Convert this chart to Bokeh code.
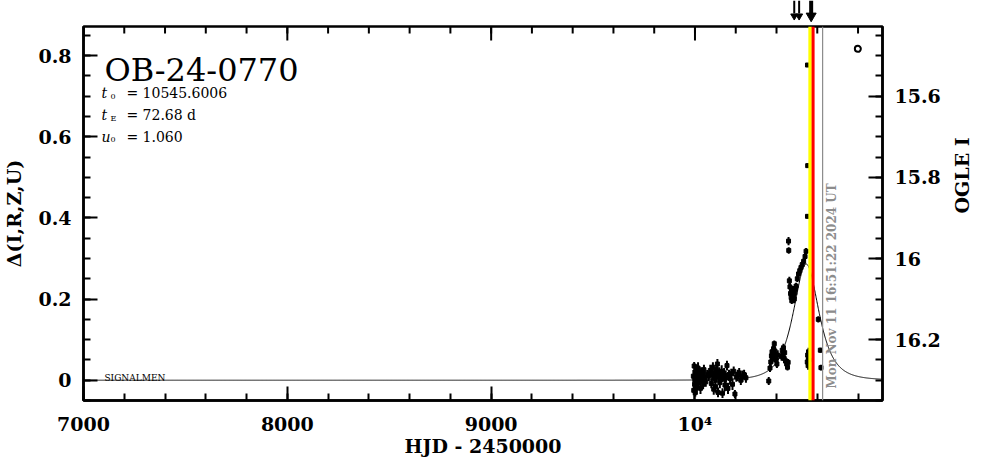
import numpy as np
from bokeh.plotting import figure
from bokeh.layouts import column
from bokeh.models import Range1d, LinearAxis, FixedTicker, Span
from bokeh.core.properties import value
from bokeh.embed import file_html
from bokeh.resources import INLINE

# ---------------- data ----------------
EVENT = "OB-24-0770"
T0 = 10545.6006
TE = 72.68
U0 = 1.060
I_BASE = 16.30          # OGLE I magnitude at delta = 0

# baseline season
base_t = [9992, 9994, 9996, 9998, 10000, 10002, 10004, 10006, 10008, 10010, 10012, 10015,
          10018, 10021, 10024, 10027, 10030, 10033, 10036, 10040, 10044, 10048, 10053, 10060,
          10068, 10075, 10080, 10084, 10088, 10092, 10095, 10098, 10101, 10104, 10107, 10110,
          10113, 10116, 10119, 10122, 10125, 10128, 10131, 10135, 10139, 10143, 10147, 10152,
          10157, 10162, 10167, 10172, 10178, 10184, 10190, 10196, 10203, 10210, 10217, 10225,
          10233, 10241, 10250]
base_d = [0.010, -0.025, 0.035, -0.010, 0.004, -0.030, 0.018, 0.000, 0.024, -0.014, 0.010, 0.030,
          -0.006, 0.016, 0.006, -0.020, 0.020, 0.002, 0.012, -0.010, 0.026, 0.006, -0.004, 0.015,
          0.010, 0.024, -0.008, 0.014, 0.032, -0.022, 0.004, 0.018, -0.016, 0.026, 0.008, 0.040,
          -0.030, 0.012, 0.020, -0.006, 0.015, 0.002, 0.022, -0.032, 0.010, 0.018, -0.012, 0.006,
          0.036, -0.020, 0.014, 0.004, 0.016, -0.010, 0.022, -0.034, 0.008, 0.012, 0.018, 0.000,
          0.010, 0.014, 0.006]
base_e = [0.015, 0.012, 0.010, 0.015, 0.012, 0.010, 0.014, 0.012, 0.015, 0.012, 0.010, 0.014,
          0.012, 0.015, 0.012, 0.014, 0.012, 0.010, 0.014, 0.012, 0.012, 0.015, 0.012, 0.010,
          0.012, 0.014, 0.012, 0.015, 0.012, 0.014, 0.012, 0.010, 0.015, 0.012, 0.014, 0.012,
          0.012, 0.015, 0.012, 0.014, 0.012, 0.010, 0.015, 0.012, 0.014, 0.012, 0.015, 0.012,
          0.012, 0.014, 0.012, 0.015, 0.012, 0.014, 0.012, 0.010, 0.012, 0.014, 0.012, 0.012,
          0.014, 0.012, 0.012]

# rising part of the 2024 season
rise_t = [10362, 10368, 10372, 10375, 10378, 10380, 10383, 10386, 10389, 10392, 10395, 10398,
          10402, 10406, 10425, 10428, 10431, 10434, 10437, 10440, 10444, 10450, 10454, 10457]
rise_d = [-0.002, 0.030, 0.045, 0.060, 0.070, 0.052, 0.066, 0.078, 0.090, 0.072, 0.058, 0.050,
          0.040, 0.062, 0.058, 0.074, 0.065, 0.080, 0.054, 0.068, 0.048, 0.040, 0.032, 0.044]
rise_e = [0.010, 0.010, 0.012, 0.010, 0.012, 0.010, 0.012, 0.010, 0.008, 0.010, 0.012, 0.010,
          0.010, 0.012, 0.010, 0.010, 0.012, 0.010, 0.012, 0.010, 0.010, 0.008, 0.008, 0.008]

# near peak
peak_t = [10459, 10460, 10463, 10466, 10469, 10472, 10475, 10478, 10481, 10484, 10487, 10490,
          10493, 10496, 10502, 10508, 10514, 10520, 10526, 10533, 10540, 10545, 10552, 10553,
          10552]
peak_d = [0.343, 0.320, 0.245, 0.230, 0.214, 0.204, 0.196, 0.212, 0.222, 0.206, 0.200, 0.216,
          0.226, 0.232, 0.250, 0.262, 0.270, 0.278, 0.285, 0.293, 0.305, 0.318, 0.404, 0.529,
          0.777]
peak_e = [0.010, 0.008, 0.010, 0.010, 0.008, 0.010, 0.008, 0.008, 0.010, 0.008, 0.010, 0.008,
          0.008, 0.008, 0.008, 0.008, 0.010, 0.008, 0.008, 0.008, 0.010, 0.008, 0.005, 0.005,
          0.005]

# latest points
late_t = [10551, 10553, 10555, 10556, 10557, 10559, 10605, 10615, 10618]
late_d = [0.045, 0.062, 0.036, 0.056, 0.070, 0.050, 0.150, 0.074, 0.031]
late_e = [0.010, 0.010, 0.010, 0.010, 0.010, 0.010, 0.008, 0.006, 0.007]

# open-circle point
circ_t = [10799]
circ_d = [0.817]

# vertical markers
yellow_t = 10564.8
red_t = 10579.5
now_t = 10626.2
now_label = "Mon Nov 11 16:51:22 2024 UT"
arrow_t = [10487, 10511]
arrow_bold_t = [10570]

# ticks
x_ticks = [7000, 8000, 9000, 10000]
x_tick_labels = ["7000", "8000", "9000", "10\u2074"]
y_ticks = [0.0, 0.2, 0.4, 0.6, 0.8]
y_tick_labels = ["0", "0.2", "0.4", "0.6", "0.8"]
mag_ticks = [15.6, 15.8, 16.0, 16.2]
mag_tick_labels = ["15.6", "15.8", "16", "16.2"]

# ---------------- geometry ----------------
W, H = 986, 459
TOPH = 24                             # strip above the frame holding the arrows
X0, X1 = 7000, 10920
Y0, Y1 = -0.05, 0.872
FL, FR, FT, FB = 82, 883, 26, 402   # frame in page pixels
DX = (X1 - X0) / (FR - FL)            # data per pixel
DY = (Y1 - Y0) / (FB - FT)


def px(xp):
    return X0 + (xp - FL) * DX


def py(yp):
    return Y1 - (yp - FT) * DY


xr = Range1d(X0, X1)
p = figure(width=W, height=H - TOPH, output_backend="svg", toolbar_location=None,
           x_range=xr, y_range=Range1d(Y0, Y1),
           min_border_left=FL, min_border_right=W - FR, min_border_top=FT - TOPH,
           min_border_bottom=H - FB, x_axis_location=None, y_axis_location=None)
p.grid.visible = False
p.outline_line_color = "black"
p.outline_line_width = 2.5
p.background_fill_color = "white"
p.border_fill_color = "white"
p.extra_y_ranges = {"mag": Range1d(I_BASE - Y0, I_BASE - Y1)}

FONT = "DejaVu Serif"


def style(ax, ticks, minor, overrides):
    ax.ticker = FixedTicker(ticks=ticks, minor_ticks=minor)
    ax.major_label_overrides = overrides
    ax.major_tick_in = 14
    ax.major_tick_out = 0
    ax.minor_tick_in = 7
    ax.minor_tick_out = 0
    ax.major_tick_line_width = 2
    ax.minor_tick_line_width = 2
    ax.axis_line_width = 2.5
    ax.major_label_text_font = FONT
    ax.major_label_text_font_style = "bold"
    ax.major_label_text_font_size = "19px"
    ax.major_label_text_color = "black"
    ax.axis_label_text_font = FONT
    ax.axis_label_text_font_style = "bold"
    ax.axis_label_text_font_size = "19px"
    ax.axis_label_text_color = "black"


x_minor = [float(v) for v in range(7000, 11001, 200)]
y_minor = [round(-0.05 + 0.05 * i, 2) for i in range(20)]
mag_minor = [round(15.40 + 0.05 * i, 2) for i in range(21)]

bottom = LinearAxis(axis_label="HJD - 2450000")
style(bottom, x_ticks, x_minor, dict(zip(x_ticks, x_tick_labels)))
bottom.major_label_standoff = 12
bottom.axis_label_standoff = -3
p.add_layout(bottom, "below")

left = LinearAxis(axis_label="\u0394(I,R,Z,U)")
style(left, y_ticks, y_minor, dict(zip(y_ticks, y_tick_labels)))
left.major_label_standoff = 12
left.axis_label_standoff = 10
p.add_layout(left, "left")

right = LinearAxis(y_range_name="mag", axis_label="OGLE I")
style(right, mag_ticks, mag_minor, dict(zip(mag_ticks, mag_tick_labels)))
right.major_label_standoff = 12
right.axis_label_standoff = 18
right.axis_label_orientation = np.pi / 2
p.add_layout(right, "right")

# ticks along the top edge (mirroring the bottom axis)
p.segment(x_ticks, [Y1] * len(x_ticks), x_ticks, [Y1 - 14 * DY] * len(x_ticks),
          line_color="black", line_width=2)
p.segment(x_minor, [Y1] * len(x_minor), x_minor, [Y1 - 7 * DY] * len(x_minor),
          line_color="black", line_width=2)

# model curve
tm = np.linspace(X0, X1, 3000)
u = np.sqrt(U0 ** 2 + ((tm - T0) / TE) ** 2)
amp = (u ** 2 + 2) / (u * np.sqrt(u ** 2 + 4))
p.line(tm, 2.5 * np.log10(amp), line_color="black", line_width=1)

# observations
obs_t = np.array(base_t + rise_t + peak_t + late_t, dtype=float)
obs_d = np.array(base_d + rise_d + peak_d + late_d)
obs_e = np.array(base_e + rise_e + peak_e + late_e)
p.segment(obs_t, obs_d - obs_e, obs_t, obs_d + obs_e, line_color="black", line_width=2)
p.scatter(obs_t, obs_d, marker="square", size=4, color="black")
p.scatter(circ_t, circ_d, marker="circle", size=6, line_color="black", line_width=2,
          fill_color="white")

# texts inside the frame
p.text([px(103)], [py(70)], text=[EVENT], text_font=value(FONT), text_font_size="32px",
       text_baseline="alphabetic", text_color="black")
rows = [("t", "0", "= 10545.6006", 93), ("t", "E", "= 72.68 d", 115), ("u", "0", "= 1.060", 137)]
for sym, sub, rest, base in rows:
    p.text([px(100)], [py(base)], text=[sym], text_font=value(FONT), text_font_size="14px",
           text_font_style="italic", text_baseline="alphabetic", text_color="black")
    p.text([px(109)], [py(base + 3)], text=[sub], text_font=value(FONT), text_font_size="8px",
           text_baseline="alphabetic", text_color="black")
    p.text([px(125)], [py(base)], text=[rest], text_font=value(FONT), text_font_size="14px",
           text_baseline="alphabetic", text_color="black")
p.text([px(103)], [py(379)], text=["SIGNALMEN"], text_font=value(FONT), text_font_size="9px",
       text_baseline="middle", text_color="black")

# vertical lines
p.add_layout(Span(location=yellow_t, dimension="height", line_color="#ffff00", line_width=3.5))
p.add_layout(Span(location=red_t, dimension="height", line_color="#ff0000", line_width=3))
p.add_layout(Span(location=now_t, dimension="height", line_color="#8c8c8c", line_width=1.2))
p.text([px(832)], [py(390)], text=[now_label], text_font=value(FONT), text_font_size="12px",
       text_font_style="bold", angle=np.pi / 2, text_align="left", text_baseline="middle",
       text_color="#8c8c8c")

# ---------------- arrow strip above the frame ----------------
a = figure(width=W, height=TOPH, output_backend="svg", toolbar_location=None,
           x_range=xr, y_range=Range1d(TOPH, 0),
           min_border_left=FL, min_border_right=W - FR, min_border_top=0, min_border_bottom=0,
           x_axis_location=None, y_axis_location=None)
a.grid.visible = False
a.outline_line_color = None
a.background_fill_color = "white"
a.border_fill_color = "white"
a.segment(arrow_t, [0] * len(arrow_t), arrow_t, [13] * len(arrow_t),
          line_color="black", line_width=2)
a.scatter(arrow_t, [15.5] * len(arrow_t), marker="inverted_triangle", size=7,
          color="black")
a.segment(arrow_bold_t, [0], arrow_bold_t, [13], line_color="black", line_width=4)
a.scatter(arrow_bold_t, [15.5], marker="inverted_triangle", size=10, color="black")

layout = column(a, p, spacing=0)
open("out.html", "w").write(file_html(layout, INLINE))
